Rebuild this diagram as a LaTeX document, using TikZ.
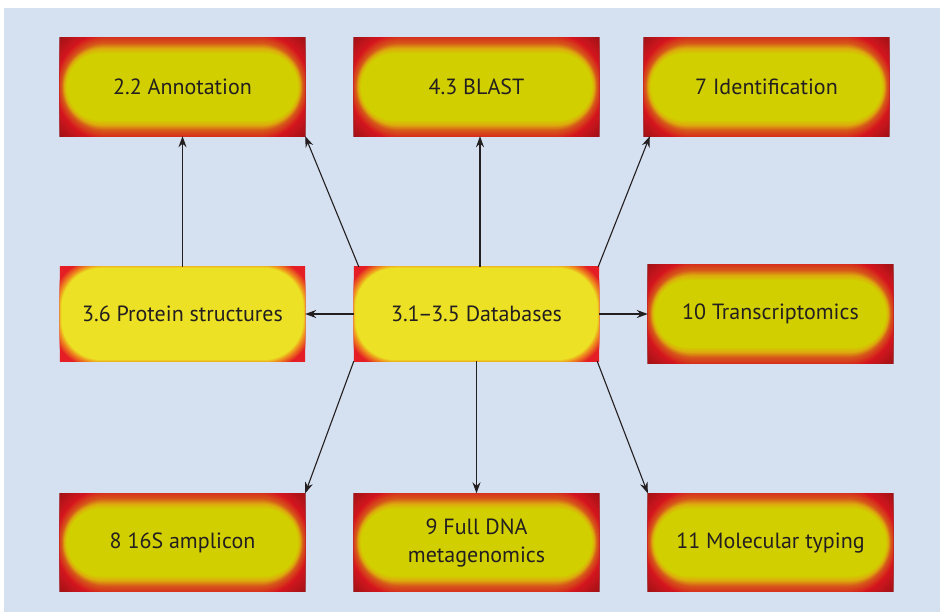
\documentclass[tikz,border=0pt]{standalone}
\usepackage{fontspec}
\setmainfont{PT Sans}
\usetikzlibrary{arrows.meta}

\definecolor{bgblue}{RGB}{213,224,240}
\definecolor{ink}{RGB}{35,31,32}
\definecolor{hotdark}{RGB}{118,14,16}
\definecolor{hotred}{RGB}{214,22,30}
\definecolor{hotorange}{RGB}{214,88,26}
\definecolor{hotamber}{RGB}{222,172,14}
\definecolor{hotcore}{RGB}{210,207,0}
\definecolor{litred}{RGB}{228,30,36}
\definecolor{litorange}{RGB}{240,150,30}
\definecolor{litcore}{RGB}{236,225,36}

\pgfdeclarelayer{paper}
\pgfdeclarelayer{glow}
\pgfsetlayers{paper,glow,main}

% nested rounded rectangles blending from one stop (a,b,r,colour) to the next
\newcommand\glowband[9]{%
  \foreach \glowk in {0,...,#9}{%
    \pgfmathsetmacro\glowt{\glowk/#9}%
    \pgfmathsetmacro\glowa{#1+(#5-#1)*\glowt}%
    \pgfmathsetmacro\glowb{#2+(#6-#2)*\glowt}%
    \pgfmathsetmacro\glowr{min(#3+(#7-#3)*\glowt,\glowb-0.05,\glowa-0.05)}%
    \pgfmathtruncatemacro\glowp{round(100*\glowt)}%
    \fill[#8!\glowp!#4, rounded corners=\glowr pt]
      (-\glowa pt,-\glowb pt) rectangle (\glowa pt,\glowb pt);
  }}

% deep red frame with a yellow-green core, behind node #1
\newcommand\hotpatch[1]{%
  \begin{scope}
    \clip (#1.south west) rectangle (#1.north east);
    \begin{scope}[shift={(#1.center)}]
      \fill[hotdark] (-130pt,-60pt) rectangle (130pt,60pt);
      \glowband{160}{80}{80}{hotdark}{127}{54}{54}{hotred}{12}%
      \glowband{127}{54}{54}{hotred}{121}{44}{44}{hotorange}{10}%
      \glowband{121}{44}{44}{hotorange}{118}{38.5}{38.5}{hotamber}{8}%
      \glowband{118}{38.5}{38.5}{hotamber}{115.5}{33.5}{33.5}{hotcore}{8}%
    \end{scope}
  \end{scope}}

% bright red frame with a large yellow core, behind node #1
\newcommand\litpatch[1]{%
  \begin{scope}
    \clip (#1.south west) rectangle (#1.north east);
    \begin{scope}[shift={(#1.center)}]
      \fill[litred] (-130pt,-60pt) rectangle (130pt,60pt);
      \glowband{132}{56}{50}{litred}{124}{49}{42}{litorange}{8}%
      \glowband{124}{49}{42}{litorange}{121}{46}{40}{litcore}{6}%
    \end{scope}
  \end{scope}}

\newcommand\hotfont{\fontsize{22}{28}\selectfont}

\tikzset{
  hotbox/.style={minimum width=245pt, minimum height=98pt, inner sep=0pt,
    text=ink, font=\hotfont, align=center},
  litbox/.style={minimum width=245pt, minimum height=94pt, inner sep=0pt,
    text=ink, font=\hotfont, align=center},
  conn/.style={draw=ink, line width=1.1pt, -{Stealth[length=11pt,width=8pt]}}
}

\begin{document}
\begin{tikzpicture}[x=1pt,y=-1pt]
  \useasboundingbox (0,0) rectangle (940,612);
  \begin{pgfonlayer}{paper}
    \fill[bgblue] (4,8) rectangle (940,612);
  \end{pgfonlayer}

  % top row
  \node[hotbox] (anno)  at (182.5,87) {2.2 Annotation};
  \node[hotbox] (blast) at (476.5,87) {4.3 BLAST};
  \node[hotbox] (iden)  at (766.5,87) {7 Identification};

  % middle row
  \node[litbox] (prot)  at (182.5,314) {3.6 Protein structures};
  \node[litbox] (db)    at (476.5,314) {3.1\kern-1.5pt--\kern-1.5pt3.5 Databases};
  \node[hotbox] (trans) at (770.5,314) {10 Transcriptomics};

  % bottom row
  \node[hotbox] (amp)   at (182.5,542.5) {8 16S amplicon};
  \node[hotbox] (dna)   at (476.5,542.5) {9 Full DNA\\metagenomics};
  \node[hotbox] (mol)   at (770.5,542.5) {11 Molecular typing};

  % glowing fills behind the labels
  \begin{pgfonlayer}{glow}
    \hotpatch{anno}\hotpatch{blast}\hotpatch{iden}
    \litpatch{prot}\litpatch{db}\hotpatch{trans}
    \hotpatch{amp}\hotpatch{dna}\hotpatch{mol}
  \end{pgfonlayer}

  % connectors
  \draw[conn] (prot.north) -- (anno.south);
  \draw[conn] ([xshift=5pt]db.north west) -- (anno.south east);
  \draw[conn] ([xshift=3.5pt]db.north) -- ([xshift=3.5pt]blast.south);
  \draw[conn] ([xshift=-1pt]db.north east) -- ([xshift=6pt]iden.south west);
  \draw[conn] (db.west) -- (prot.east);
  \draw[conn] (db.east) -- (trans.west);
  \draw[conn] (db.south west) -- (amp.north east);
  \draw[conn] (db.south) -- (dna.north);
  \draw[conn] ([xshift=-2pt]db.south east) -- (mol.north west);
\end{tikzpicture}
\end{document}
